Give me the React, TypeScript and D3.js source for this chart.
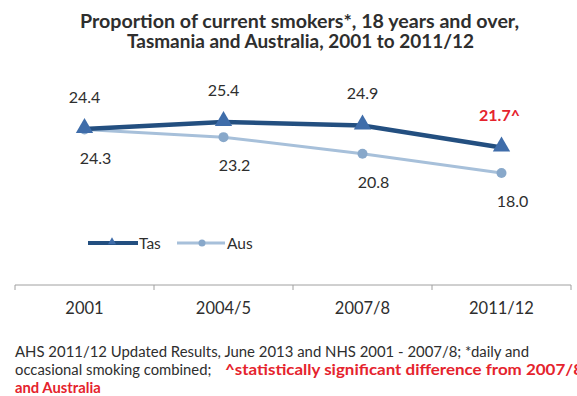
import React from "react";
import * as d3 from "d3";

const categories = ["2001", "2004/5", "2007/8", "2011/12"];
const tasValues = [24.4, 25.4, 24.9, 21.7];
const ausValues = [24.3, 23.2, 20.8, 18.0];
const tasLabels = ["24.4", "25.4", "24.9", "21.7^"];
const ausLabels = ["24.3", "23.2", "20.8", "18.0"];
const seriesNames = ["Tas", "Aus"];
const titleLines = [
  "Proportion of current smokers*, 18 years and over,",
  "Tasmania and Australia, 2001 to 2011/12",
];

const W = 577;
const H = 396;
const TAS_LINE = "#234F80";
const TAS_MK = "#3F6DAA";
const AUS = "#A7C0DA";
const AUS_MK = "#88A8CA";
const RED = "#E5232D";
const TXT = "#2E2E2E";
const FONT = "Lato, 'Open Sans', sans-serif";

export default function App() {
  const x = d3.scaleBand<string>().domain(categories).range([15, 571]).padding(0);
  const y = d3.scaleLinear().domain([0, 30]).range([297, 90.3]);
  const cx = (c: string) => (x(c) as number) + x.bandwidth() / 2;
  const line = d3
    .line<number>()
    .x((_, i) => cx(categories[i]))
    .y((d) => y(d));
  const tri = d3.symbol().type(d3.symbolTriangle).size(130)() as string;
  const triSmall = d3.symbol().type(d3.symbolTriangle).size(28)() as string;
  const axisY = 285;
  const edges = categories.map((c) => x(c) as number).concat([571]);

  return (
    <svg
      width={W}
      height={H}
      style={{ position: "absolute", left: 0, top: 0, background: "#fff" }}
      fontFamily={FONT}
    >
      <text x={80} y={28} fontSize={18.5} fontWeight="bold" fill={TXT} textLength={439} lengthAdjust="spacingAndGlyphs">
        {titleLines[0]}
      </text>
      <text x={127} y={48} fontSize={18.5} fontWeight="bold" fill={TXT} textLength={347} lengthAdjust="spacingAndGlyphs">
        {titleLines[1]}
      </text>

      {/* axis */}
      <line x1={15} x2={571} y1={axisY} y2={axisY} stroke="#A0A0A0" strokeWidth={1} />
      {edges.map((e, i) => (
        <line key={i} x1={e} x2={e} y1={axisY} y2={axisY + 5} stroke="#A0A0A0" />
      ))}
      {categories.map((c) => (
        <text key={c} x={cx(c)} y={314} textAnchor="middle" fontSize={16.5} fill={TXT}>
          {c}
        </text>
      ))}

      {/* Aus */}
      <path d={line(ausValues) as string} fill="none" stroke={AUS} strokeWidth={3} />
      {ausValues.map((v, i) => (
        <circle key={i} cx={cx(categories[i])} cy={y(v)} r={5} fill={AUS_MK} />
      ))}
      {/* Tas */}
      <path d={line(tasValues) as string} fill="none" stroke={TAS_LINE} strokeWidth={4.5} />
      {tasValues.map((v, i) => (
        <path
          key={i}
          d={tri}
          transform={`translate(${cx(categories[i])},${y(v) - 1})`}
          fill={TAS_MK}
        />
      ))}

      {/* labels */}
      {tasValues.map((v, i) => (
        <text
          key={i}
          x={cx(categories[i]) + (i === 3 ? -2 : 0)}
          y={y(v) - 26}
          textAnchor="middle"
          fontSize={16}
          fill={i === 3 ? RED : TXT}
          fontWeight={i === 3 ? "bold" : "normal"}
        >
          {tasLabels[i]}
        </text>
      ))}
      {ausValues.map((v, i) => (
        <text
          key={i}
          x={cx(categories[i]) + 11}
          y={y(v) + 34}
          textAnchor="middle"
          fontSize={16}
          fill={TXT}
        >
          {ausLabels[i]}
        </text>
      ))}

      {/* legend */}
      <g fontSize={15.5} fill={TXT}>
        <line x1={88} x2={138} y1={243} y2={243} stroke={TAS_LINE} strokeWidth={4} />
        <path d={triSmall} transform="translate(112,242)" fill={TAS_MK} />
        <text x={139} y={248.5}>{seriesNames[0]}</text>
        <line x1={177} x2={225} y1={243} y2={243} stroke={AUS} strokeWidth={3} />
        <circle cx={202} cy={243} r={3.5} fill={AUS_MK} />
        <text x={227} y={248.5}>{seriesNames[1]}</text>
      </g>

      {/* footnote */}
      <g fontSize={14.8} fill={TXT}>
        <text x={15} y={357} textLength={514} lengthAdjust="spacingAndGlyphs">
          AHS 2011/12 Updated Results, June 2013 and NHS 2001 - 2007/8;  *daily and
        </text>
        <text x={15} y={375}>
          occasional smoking combined;
        </text>
        <text x={225} y={375} fill={RED} fontWeight="bold" textLength={358} lengthAdjust="spacingAndGlyphs">
          ^statistically significant difference from 2007/8
        </text>
        <text x={15} y={392.5} fill={RED} fontWeight="bold">
          and Australia
        </text>
      </g>
    </svg>
  );
}
